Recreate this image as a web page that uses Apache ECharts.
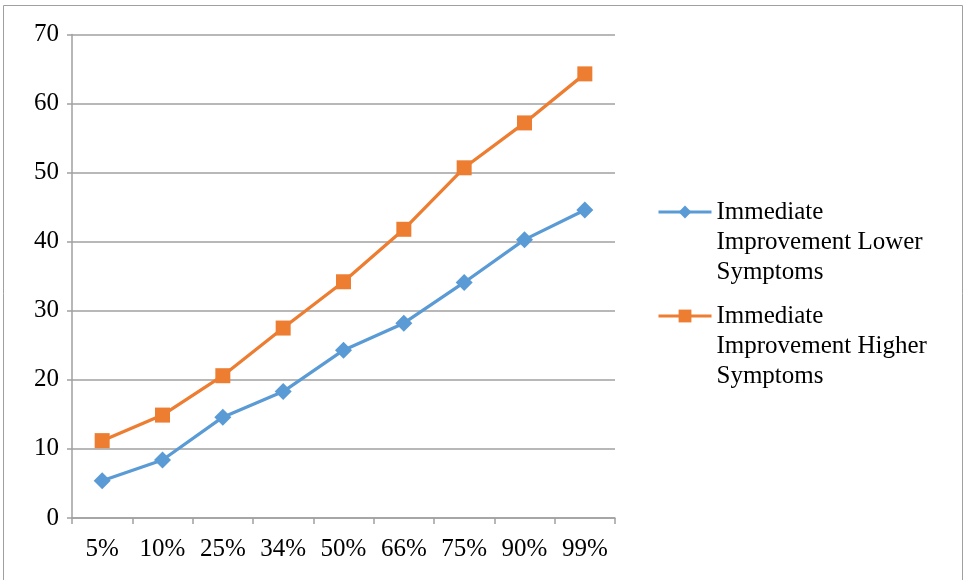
<!DOCTYPE html>
<html>
<head>
<meta charset="utf-8">
<script src="https://cdn.jsdelivr.net/npm/echarts@6/dist/echarts.min.js"></script>
<style>
  html, body { margin: 0; padding: 0; background: #fff; }
  #chart { width: 965px; height: 580px; }
</style>
</head>
<body>
<div id="chart"></div>
<script>
// Percentile categories along the x axis
const categories = ['5%', '10%', '25%', '34%', '50%', '66%', '75%', '90%', '99%'];

// Series values
const lowerSymptoms  = [5.4, 8.4, 14.6, 18.3, 24.3, 28.2, 34.1, 40.3, 44.6];
const higherSymptoms = [11.2, 14.9, 20.6, 27.5, 34.2, 41.8, 50.7, 57.2, 64.3];

const lowerName  = 'Immediate Improvement Lower Symptoms';
const higherName = 'Immediate Improvement Higher Symptoms';

// Legend labels wrap over three lines; two leading blank lines keep the
// first line level with the legend icon (legend text is centred on it).
const legendLines = {};
legendLines[lowerName]  = '\n\nImmediate\nImprovement Lower\nSymptoms';
legendLines[higherName] = '\n\nImmediate\nImprovement Higher\nSymptoms';

const FONT = '"Liberation Serif", "Times New Roman", serif';
const FONT_SIZE = 25;
const BLUE = '#5B9BD5';
const ORANGE = '#ED7D31';
const GRID_GRAY = '#A0A0A0';

function legendFor(name, top) {
  return {
    data: [name],
    orient: 'vertical',
    left: 657,
    top: top,
    padding: 0,
    itemWidth: 53,
    itemHeight: 16,
    itemGap: 0,
    selectedMode: false,
    lineStyle: { width: 3 },
    formatter: n => legendLines[n],
    textStyle: {
      fontFamily: FONT,
      fontSize: FONT_SIZE,
      color: '#000',
      lineHeight: 30
    }
  };
}

const chart = echarts.init(document.getElementById('chart'), null, { renderer: 'canvas' });

chart.setOption({
  backgroundColor: '#fff',
  animation: false,
  graphic: [{
    type: 'rect',
    shape: { x: 3.5, y: 5.5, width: 959, height: 600 },
    style: { fill: 'none', stroke: GRID_GRAY, lineWidth: 1 },
    silent: true
  }],
  grid: { left: 72, right: 350, top: 34.5, bottom: 62, containLabel: false },
  legend: [legendFor(lowerName, 137), legendFor(higherName, 241)],
  xAxis: {
    type: 'category',
    data: categories,
    boundaryGap: true,
    axisLine: { lineStyle: { color: GRID_GRAY, width: 1.5 } },
    axisTick: { show: true, length: 6, alignWithLabel: false, lineStyle: { color: GRID_GRAY, width: 1.5 } },
    axisLabel: { fontFamily: FONT, fontSize: FONT_SIZE, color: '#000', margin: 19 },
    splitLine: { show: false }
  },
  yAxis: {
    type: 'value',
    min: 0,
    max: 70,
    interval: 10,
    axisLine: { show: true, lineStyle: { color: GRID_GRAY, width: 1.5 } },
    axisTick: { show: true, length: 5, lineStyle: { color: GRID_GRAY, width: 1.5 } },
    axisLabel: { fontFamily: FONT, fontSize: FONT_SIZE, color: '#000', margin: 13 },
    splitLine: { show: true, lineStyle: { color: GRID_GRAY, width: 1.5 } }
  },
  series: [
    {
      name: lowerName,
      type: 'line',
      data: lowerSymptoms,
      symbol: 'diamond',
      symbolSize: 17,
      lineStyle: { color: BLUE, width: 3.25 },
      itemStyle: { color: BLUE },
      z: 3
    },
    {
      name: higherName,
      type: 'line',
      data: higherSymptoms,
      symbol: 'rect',
      symbolSize: 15,
      lineStyle: { color: ORANGE, width: 3.25 },
      itemStyle: { color: ORANGE },
      z: 3
    }
  ]
});
</script>
</body>
</html>
